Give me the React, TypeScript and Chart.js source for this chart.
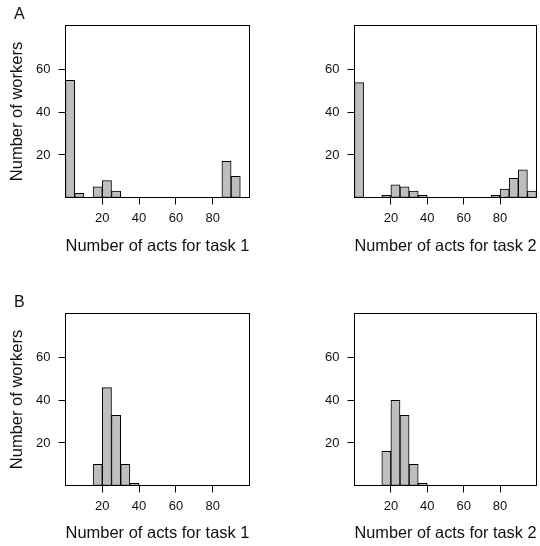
import React, { useEffect, useRef } from "react";
import { Chart, registerables } from "chart.js";

Chart.register(...registerables);

// ---- data ----
const binCenters = [2.5, 7.5, 12.5, 17.5, 22.5, 27.5, 32.5, 37.5, 42.5, 47.5, 52.5, 57.5, 62.5, 67.5, 72.5, 77.5, 82.5, 87.5, 92.5, 97.5];
const countsTask1A = [55, 2, 0, 5, 8, 3, 0, 0, 0, 0, 0, 0, 0, 0, 0, 0, 0, 17, 10, 0];
const countsTask2A = [54, 0, 0, 1, 6, 5, 3, 1, 0, 0, 0, 0, 0, 0, 0, 1, 4, 9, 13, 3];
const countsTask1B = [0, 0, 0, 10, 46, 33, 10, 1, 0, 0, 0, 0, 0, 0, 0, 0, 0, 0, 0, 0];
const countsTask2B = [0, 0, 0, 16, 40, 33, 10, 1, 0, 0, 0, 0, 0, 0, 0, 0, 0, 0, 0, 0];
const xTickValues = [20, 40, 60, 80];
const yTickValues = [20, 40, 60];
const xTitles = ["Number of acts for task 1", "Number of acts for task 2"];
const yTitle = "Number of workers";
const panelLetters = ["A", "B"];

const FONT = "'Liberation Sans', Arial, Helvetica, sans-serif";
const TEXT = "#111";

const boxPlugin = {
  id: "frameBox",
  afterDatasetsDraw(chart: any) {
    const { ctx, chartArea: a } = chart;
    ctx.save();
    ctx.strokeStyle = "#000";
    ctx.lineWidth = 1;
    ctx.strokeRect(a.left, a.top, a.right - a.left, a.bottom - a.top);
    ctx.restore();
  },
};

type PanelProps = {
  counts: number[];
  xTitle: string;
  showYTitle: boolean;
  left: number;
  top: number;
  padTop: number;
  padRight: number;
  yWidth: number;
  xHeight: number;
  xTitlePadBottom: number;
};

function Panel(p: PanelProps) {
  const ref = useRef<HTMLCanvasElement | null>(null);
  useEffect(() => {
    if (!ref.current) return;
    const chart = new Chart(ref.current, {
      type: "bar",
      data: {
        datasets: [
          {
            data: binCenters.map((x, i) => ({ x, y: p.counts[i] })),
            backgroundColor: "#bebebe",
            borderColor: "#000",
            borderWidth: 1,
            borderSkipped: false,
            barPercentage: 1,
            categoryPercentage: 1,
          } as any,
        ],
      },
      options: {
        responsive: false,
        animation: false,
        devicePixelRatio: 1,
        layout: { padding: { left: 0, top: p.padTop, right: p.padRight, bottom: 0 } },
        plugins: { legend: { display: false }, tooltip: { enabled: false }, title: { display: false } },
        scales: {
          x: {
            type: "linear",
            min: 0,
            max: 100,
            offset: false,
            afterBuildTicks: (s: any) => {
              s.ticks = xTickValues.map((v) => ({ value: v }));
            },
            afterFit: (s: any) => {
              s.height = p.xHeight;
            },
            grid: { display: true, drawOnChartArea: false, drawTicks: true, tickLength: 7, color: "#000", tickColor: "#000", offset: false, lineWidth: 1 },
            border: { display: false },
            ticks: { padding: 6, color: TEXT, font: { family: FONT, size: 13 }, maxRotation: 0, autoSkip: false },
            title: {
              display: true,
              text: p.xTitle,
              color: TEXT,
              font: { family: FONT, size: 16.5 },
              padding: { top: 0, bottom: p.xTitlePadBottom },
            },
          },
          y: {
            type: "linear",
            min: 0,
            max: 80.8,
            afterBuildTicks: (s: any) => {
              s.ticks = yTickValues.map((v) => ({ value: v }));
            },
            afterFit: (s: any) => {
              s.width = p.yWidth;
            },
            grid: { display: true, drawOnChartArea: false, drawTicks: true, tickLength: 7, color: "#000", tickColor: "#000", lineWidth: 1 },
            border: { display: false },
            ticks: { padding: 8, color: TEXT, font: { family: FONT, size: 13 }, autoSkip: false },
            title: {
              display: p.showYTitle,
              text: yTitle,
              color: TEXT,
              font: { family: FONT, size: 16.5 },
              padding: { top: 7.3, bottom: 0 },
            },
          },
        },
      } as any,
      plugins: [boxPlugin],
    });
    return () => chart.destroy();
  }, []);
  return (
    <canvas
      ref={ref}
      width={270}
      height={273}
      style={{ position: "absolute", left: p.left, top: p.top, width: 270, height: 273 }}
    />
  );
}

const letterStyle: React.CSSProperties = {
  position: "absolute",
  fontFamily: FONT,
  fontSize: 16,
  lineHeight: "16px",
  color: TEXT,
};

export default function App() {
  return (
    <div style={{ position: "fixed", left: 0, top: 0, width: 540, height: 546, background: "#fff", overflow: "hidden" }}>
      <Panel counts={countsTask1A} xTitle={xTitles[0]} showYTitle={true} left={0} top={0} padTop={25.5} padRight={20.5} yWidth={65.5} xHeight={75.5} xTitlePadBottom={16.6} />
      <Panel counts={countsTask2A} xTitle={xTitles[1]} showYTitle={false} left={270} top={0} padTop={25.5} padRight={3.5} yWidth={84.5} xHeight={75.5} xTitlePadBottom={16.6} />
      <Panel counts={countsTask1B} xTitle={xTitles[0]} showYTitle={true} left={0} top={273} padTop={40.5} padRight={20.5} yWidth={65.5} xHeight={60.5} xTitlePadBottom={2.2} />
      <Panel counts={countsTask2B} xTitle={xTitles[1]} showYTitle={false} left={270} top={273} padTop={40.5} padRight={3.5} yWidth={84.5} xHeight={60.5} xTitlePadBottom={2.2} />
      <div style={{ ...letterStyle, left: 14, top: 6.2 }}>{panelLetters[0]}</div>
      <div style={{ ...letterStyle, left: 14, top: 294.2 }}>{panelLetters[1]}</div>
    </div>
  );
}
